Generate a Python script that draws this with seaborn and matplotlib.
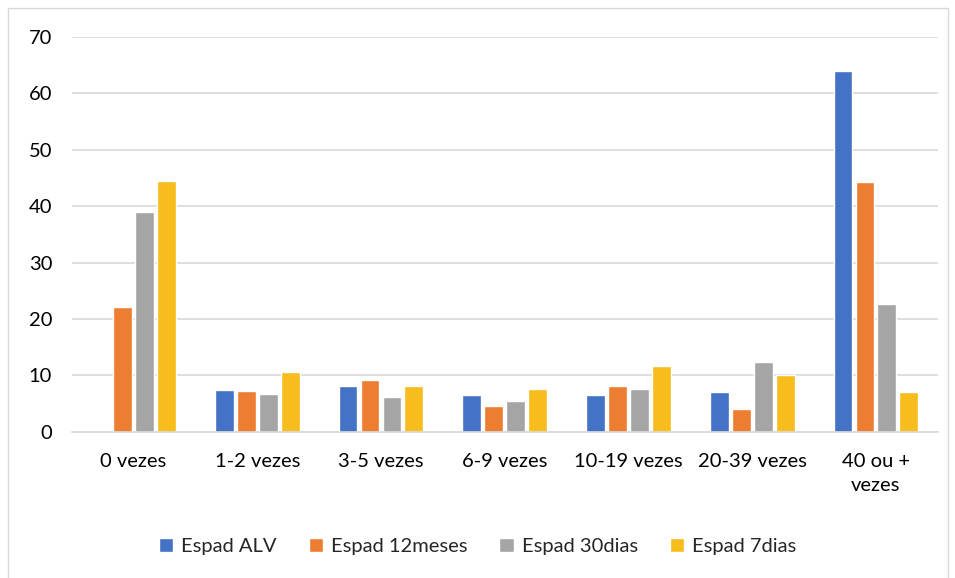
import pandas as pd
import matplotlib.pyplot as plt
import seaborn as sns
from matplotlib.patches import Rectangle

# ================== DATA ==================
categories = ["0 vezes", "1-2 vezes", "3-5 vezes", "6-9 vezes",
              "10-19 vezes", "20-39 vezes", "40 ou +\nvezes"]
series_names = ["Espad ALV", "Espad 12meses", "Espad 30dias", "Espad 7dias"]

espad_alv = [0.0, 7.4, 8.1, 6.6, 6.6, 7.0, 64.0]
espad_12meses = [22.1, 7.2, 9.2, 4.5, 8.2, 4.0, 44.3]
espad_30dias = [39.0, 6.7, 6.1, 5.5, 7.5, 12.3, 22.6]
espad_7dias = [44.4, 10.6, 8.1, 7.5, 11.7, 10.0, 7.0]

colors = ["#4472C4", "#ED7D31", "#A5A5A5", "#F7BD1C"]
y_ticks = [0, 10, 20, 30, 40, 50, 60, 70]

# ================== PLOT ==================
rows = []
for name, vals in zip(series_names, [espad_alv, espad_12meses, espad_30dias, espad_7dias]):
    for cat, v in zip(categories, vals):
        rows.append({"categoria": cat, "serie": name, "valor": v})
df = pd.DataFrame(rows)

sns.set_style("white")
plt.rcParams['font.family'] = ['Lato', 'DejaVu Sans']

fig = plt.figure(figsize=(9.55, 5.78), dpi=100)
ax = fig.add_axes([0.075, 0.253, 0.907, 0.683])

sns.barplot(data=df, x="categoria", y="valor", hue="serie",
            order=categories, hue_order=series_names,
            palette=colors, width=0.71, gap=0.14, saturation=1,
            ax=ax, legend=True)

ax.set_ylim(0, 70)
ax.set_xlim(-0.5, len(categories) - 0.5)
ax.set_yticks(y_ticks)
ax.yaxis.grid(True, color="#D9D9D9", linewidth=1.2)
ax.set_axisbelow(True)
for s in ["top", "right", "left"]:
    ax.spines[s].set_visible(False)
ax.spines["bottom"].set_color("#D9D9D9")
ax.spines["bottom"].set_linewidth(1.2)
ax.tick_params(axis="both", length=0, labelsize=14.5, colors="#000000")
ax.tick_params(axis="x", pad=15)
ax.tick_params(axis="y", pad=14)
for lbl in ax.get_xticklabels():
    lbl.set_linespacing(1.55)
ax.set_xlabel("")
ax.set_ylabel("")

handles, labels = ax.get_legend_handles_labels()
ax.get_legend().remove()
fig.legend(handles, labels, loc="center", bbox_to_anchor=(0.5, 0.054),
           ncol=4, frameon=False, fontsize=14.5, handlelength=0.7,
           handleheight=0.7, handletextpad=0.4, columnspacing=1.6)

fig.patches.append(Rectangle((0.008, -0.01), 0.985, 0.996, transform=fig.transFigure,
                             fill=False, edgecolor="#D9D9D9", linewidth=1))

fig.savefig("out.png", dpi=100)
